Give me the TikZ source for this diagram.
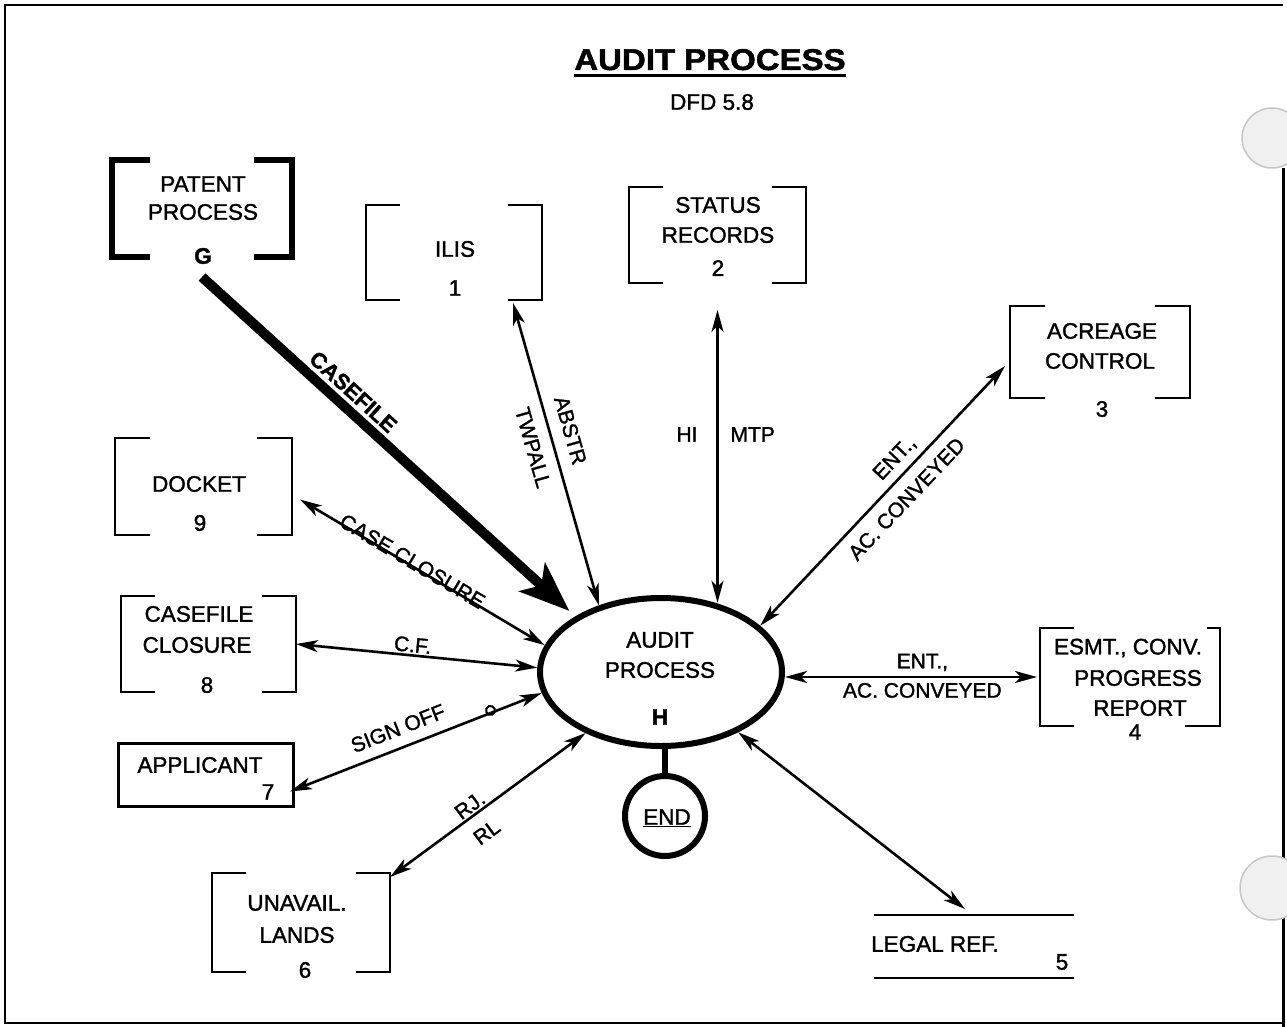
\documentclass[tikz,border=0pt]{standalone}
\usepackage{fontspec}
\setmainfont{Liberation Sans}[FakeBold=1.5]
\usetikzlibrary{arrows.meta,shapes.geometric}

% open-sided data store: a bracket on each side with short serifs
\newcommand\bracketpair[3]{%
  \draw[#3] ([xshift=#2]#1.north west) -- (#1.north west) -- (#1.south west) -- ([xshift=#2]#1.south west);
  \draw[#3] ([xshift=-#2]#1.north east) -- (#1.north east) -- (#1.south east) -- ([xshift=-#2]#1.south east);
}

\begin{document}
\begin{tikzpicture}[x=1pt,y=-1pt,
  every node/.style={inner sep=0pt, outer sep=0pt},
  font=\fontsize{22.5}{24}\selectfont,
  txt/.style={anchor=center},
  store/.style={rectangle, draw=none},
  br/.style={line width=2.6pt, line join=miter},
  heavybr/.style={line width=6pt, line join=miter},
  flow/.style={line width=2.6pt, >={Stealth[length=22pt,width=12pt,inset=6pt]}, <->},
  bigflow/.style={line width=10pt, -{Stealth[length=50pt,width=38pt,inset=12pt]}},
  lbl/.style={inner sep=2pt, font=\fontsize{21}{22}\selectfont},
  hole/.style={circle, fill=gray!12, draw=gray!45, line width=1.5pt},
]
\useasboundingbox (0,0) rectangle (1287,1027);

% sheet edge and punch holes
\draw[line width=2pt] (1283,5) -- (5,5) -- (5,1023) -- (1283,1023);
\draw[line width=3pt] (1283,168) -- (1283,858);
\draw[line width=3pt] (1283,918) -- (1283,1027);
\node[hole, minimum size=60pt] (holetop) at (1272,138) {};
\node[hole, minimum size=64pt] (holebot) at (1272,888) {};

% heading
\node[anchor=base] (title) at (710,70) {\scalebox{1.1}[1]{\fontsize{30}{32}\selectfont\bfseries AUDIT PROCESS}};
\draw[line width=3pt] ([yshift=-6pt]title.base west) -- ([yshift=-6pt]title.base east);
\node[txt] (dfd) at (712,102) {DFD 5.8};

% stores and external entities
\node[store, minimum width=180pt, minimum height=97pt] (patent) at (202,208.5) {};
\bracketpair{patent}{38pt}{heavybr}
\node[txt] (patentA) at (203,184) {PATENT};
\node[txt] (patentB) at (203,212) {PROCESS};
\node[txt] (patentG) at (203,256) {\bfseries G};

\node[store, minimum width=176pt, minimum height=95pt] (ilis) at (454,252.5) {};
\bracketpair{ilis}{34pt}{br}
\node[txt] (ilisA) at (455,249) {ILIS};
\node[txt] (ilisN) at (455,288) {1};

\node[store, minimum width=177pt, minimum height=96pt] (status) at (717.5,235) {};
\bracketpair{status}{34pt}{br}
\node[txt] (statusA) at (718,205) {STATUS};
\node[txt] (statusB) at (718,235) {RECORDS};
\node[txt] (statusN) at (718,268) {2};

\node[store, minimum width=180pt, minimum height=92pt] (acreage) at (1100,352) {};
\bracketpair{acreage}{35pt}{br}
\node[txt] (acreageA) at (1102,331) {ACREAGE};
\node[txt] (acreageB) at (1100,361) {CONTROL};
\node[txt] (acreageN) at (1102,409) {3};

\node[store, minimum width=177pt, minimum height=97pt] (docket) at (203.5,486.5) {};
\bracketpair{docket}{35pt}{br}
\node[txt] (docketA) at (199,484) {DOCKET};
\node[txt] (docketN) at (200,523) {9};

\node[store, minimum width=175pt, minimum height=96pt] (cfclosure) at (208.5,644) {};
\bracketpair{cfclosure}{34pt}{br}
\node[txt] (cfA) at (199,614) {CASEFILE};
\node[txt] (cfB) at (197,645) {CLOSURE};
\node[txt] (cfN) at (207,685) {8};

\node[draw, line width=3pt, minimum width=175pt, minimum height=63pt] (applicant) at (205.5,774.5) {};
\node[txt] (applicantA) at (200,765) {APPLICANT};
\node[txt] (applicantN) at (268,792) {7};

\node[store, minimum width=178pt, minimum height=99pt] (unavail) at (301,922.5) {};
\bracketpair{unavail}{34pt}{br}
\node[txt] (unavailA) at (297,903) {UNAVAIL.};
\node[txt] (unavailB) at (297,935) {LANDS};
\node[txt] (unavailN) at (305,970) {6};

\node[store, minimum width=180pt, minimum height=98pt] (esmt) at (1130,677) {};
\draw[br] ([xshift=34pt]esmt.north west) -- (esmt.north west) -- (esmt.south west) -- ([xshift=34pt]esmt.south west);
\draw[br] ([xshift=-13pt]esmt.north east) -- (esmt.north east) -- (esmt.south east) -- ([xshift=-35pt]esmt.south east);
\node[txt] (esmtA) at (1128,648) {ESMT., CONV.};
\node[txt] (esmtB) at (1138,678) {PROGRESS};
\node[txt] (esmtC) at (1140,708) {REPORT};
\node[txt] (esmtN) at (1135,732) {4};

\node[store, minimum width=200pt, minimum height=63pt] (legal) at (974,946.5) {};
\draw[br] (legal.north west) -- (legal.north east);
\draw[br] (legal.south west) -- (legal.south east);
\node[txt] (legalA) at (935,944) {LEGAL REF.};
\node[txt] (legalN) at (1062,962) {5};

% the process bubble and its end point
\node[ellipse, draw, line width=6pt, outer sep=3pt, minimum width=242pt, minimum height=148pt] (audit) at (661,672) {};
\node[txt] (auditA) at (660,640) {AUDIT};
\node[txt] (auditB) at (660,670) {PROCESS};
\node[txt] (auditH) at (660,717) {\bfseries H};
\node[circle, draw, line width=6pt, outer sep=3pt, minimum size=80pt] (endc) at (665,816) {};
\node[txt] (endt) at (667,818) {\underline{END}};
\draw[line width=6pt] (endc.north |- audit.south) -- (endc.north);

% data flows
\draw[bigflow, shorten >=8pt] ([yshift=-20pt]patent.south) --
  node[lbl, sloped, above=7pt, pos=0.375, font=\fontsize{22}{23}\selectfont\bfseries] (lcasefile) {CASEFILE} (audit.147);

\draw[flow] ([xshift=-29pt,yshift=-3pt]ilis.south east) --
  node[lbl, sloped, above=11pt, pos=0.44] (labstr) {ABSTR}
  node[lbl, sloped, below=11pt, pos=0.46] (ltwpall) {TWPALL} (audit.133);

\draw[flow] ([yshift=-27pt]status.south) --
  node[lbl, left=18pt, pos=0.425] (lhi) {HI}
  node[lbl, right=11pt, pos=0.425] (lmtp) {MTP} (status.south |- audit.52);

\draw[flow] (audit.25) --
  node[lbl, sloped, above=6pt, pos=0.6] (lent1) {ENT.,}
  node[lbl, sloped, below=10pt, pos=0.54] (lac1) {AC. CONVEYED} ([xshift=-5pt,yshift=-14pt]acreage.west);

\draw[flow] (audit.east |- esmt.west) --
  node[lbl, above=4pt, pos=0.545] (lent2) {ENT.,}
  node[lbl, below=4pt, pos=0.545] (lac2) {AC. CONVEYED} ([xshift=-3pt]esmt.west);

\draw[flow] (audit.-38) -- ([xshift=-9pt,yshift=6pt]legal.north);

\draw[flow] ([yshift=-4pt]unavail.north east) --
  node[lbl, sloped, above=1pt, pos=0.44] (lrj) {RJ.}
  node[lbl, sloped, below=12pt, pos=0.43] (lrl) {RL} (audit.219);

\draw[flow] ([xshift=-3pt,yshift=-17pt]applicant.east) --
  node[lbl, sloped, above=10pt, pos=0.457] (lsign) {SIGN OFF}
  node[circle, draw, line width=2pt, minimum size=9pt, sloped, above=-2pt, pos=0.8] (sigdot) {} (audit.190);

\draw[flow] (cfclosure.east) --
  node[lbl, sloped, above=1pt, pos=0.48] (lcf) {C.F.} (audit.178);

\draw[flow] ([xshift=8pt,yshift=-13pt]docket.east) --
  node[lbl, sloped, above=-5pt, pos=0.45] (lclose) {CASE CLOSURE} (audit.167);
\end{tikzpicture}
\end{document}
